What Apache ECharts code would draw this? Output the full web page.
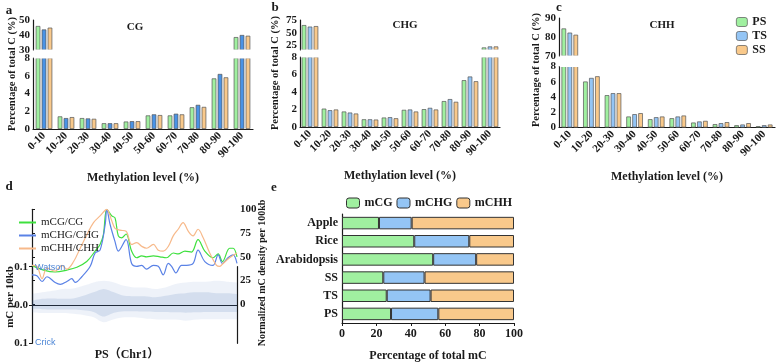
<!DOCTYPE html>
<html>
<head>
<meta charset="utf-8">
<script src="https://cdn.jsdelivr.net/npm/echarts@6/dist/echarts.min.js"></script>
<style>html,body{margin:0;padding:0;background:#fff}#main{width:778px;height:363px}</style>
</head>
<body>
<div id="main"></div>
<script>
// a-c: methylation level distribution (% of total C)
var levels = ['0-10','10-20','20-30','30-40','40-50','50-60','60-70','70-80','80-90','90-100'];
var cgPS  = [46.0, 1.42, 1.23, 0.65, 0.84, 1.53, 1.53, 2.45, 5.70, 38.6];
var cgTS  = [43.7, 1.23, 1.19, 0.65, 0.88, 1.65, 1.72, 2.72, 6.20, 40.0];
var cgSS  = [44.9, 1.34, 1.15, 0.65, 0.88, 1.57, 1.65, 2.49, 5.82, 39.5];
var chgPS = [65.0, 2.10, 1.77, 0.88, 1.08, 1.96, 2.04, 2.96, 5.35, 21.0];
var chgTS = [62.0, 1.92, 1.65, 0.88, 1.12, 2.00, 2.19, 3.19, 5.77, 23.0];
var chgSS = [63.0, 2.00, 1.54, 0.85, 1.00, 1.77, 2.00, 2.88, 5.23, 23.0];
var chhPS = [84.5, 6.03, 4.24, 1.44, 1.09, 1.22, 0.65, 0.44, 0.30, 0.17];
var chhTS = [82.3, 6.50, 4.50, 1.75, 1.35, 1.44, 0.79, 0.57, 0.39, 0.30];
var chhSS = [81.2, 6.72, 4.50, 1.88, 1.44, 1.57, 0.87, 0.70, 0.57, 0.39];

// d: normalized mC density along Chr1 ([position %, density])
var cgLine = [[0,41],[5.7,36],[11.3,34],[17,36],[21.9,39],[26.7,45],[30.8,56],[33.2,63],[34.8,73],[36.5,100],[38.9,93],[40.5,91],[42.1,72],[43.8,70],[45.9,74],[48.6,56],[51.1,49],[53.5,51],[55.9,50],[59.2,51],[62.4,50],[65.6,49],[68.9,54],[71.3,53],[74.6,56],[77.8,55],[81,68],[84.3,56],[88.3,49],[90.8,53],[92.9,45],[96.4,59],[98.1,59],[100,50]];
var chgLine = [[0,31],[2.4,30],[4.9,24],[7.3,29],[11.3,23],[13.8,21],[17,24],[19.4,27],[21.1,23],[24.3,29],[28.4,40],[30.8,54],[33.2,57],[35.7,84],[36.5,100],[38.1,84],[40.5,66],[42.1,56],[45.9,68],[48.6,43],[51.1,40],[53.5,41],[55.9,37],[59.2,41],[61.6,40],[64,31],[66.5,43],[68.1,40],[70.2,33],[72.9,41],[75.4,41],[78.6,43],[81,57],[84.3,45],[88.3,41],[90.8,52],[92.9,43],[95.6,49],[98.1,52],[100,43]];
var chhLine = [[0,41],[2.4,40],[4.9,27],[7.3,38],[11.3,35],[14.6,41],[17,37],[20.3,45],[23.5,59],[26.7,73],[30,86],[33.2,93],[35.7,99],[36.5,100],[38.9,88],[40.5,80],[42.9,78],[45.9,77],[48.6,63],[51.1,65],[53.5,61],[55.9,59],[59.2,63],[61.6,57],[64,56],[66.5,61],[68.9,72],[71.3,79],[73.7,86],[76.2,77],[78.6,72],[81,79],[83.5,70],[86.7,54],[90,41],[91.6,40],[93.2,43],[96.4,49],[100,54]];
// mC per 10kb cloud envelope (Watson +, Crick -)
var bandPos    = [0,5,10,15,20,25,30,35,40,45,50,55,60,65,70,75,80,85,90,95,100];
var sparseUp   = [0.029,0.033,0.037,0.042,0.043,0.050,0.059,0.063,0.059,0.050,0.046,0.046,0.042,0.046,0.055,0.059,0.061,0.061,0.063,0.061,0.059];
var denseUp    = [0.011,0.016,0.017,0.016,0.017,0.024,0.033,0.042,0.033,0.024,0.023,0.023,0.020,0.024,0.029,0.031,0.033,0.033,0.031,0.031,0.029];
var sparseDown = [-0.019,-0.021,-0.021,-0.021,-0.023,-0.026,-0.032,-0.045,-0.037,-0.032,-0.032,-0.035,-0.037,-0.038,-0.038,-0.041,-0.038,-0.037,-0.037,-0.037,-0.037];
var denseDown  = [-0.010,-0.011,-0.012,-0.012,-0.012,-0.014,-0.018,-0.030,-0.020,-0.016,-0.016,-0.017,-0.018,-0.018,-0.019,-0.020,-0.019,-0.018,-0.018,-0.018,-0.018];

// e: percentage of total mC
var species = ['PS','TS','SS','Arabidopsis','Rice','Apple'];
var mCG  = [28.5, 26, 24, 53, 42, 21.5];
var mCHG = [27.5, 25.5, 24, 25, 32, 19];
var mCHH = [44, 48.5, 52, 22, 26, 59.5];

var SERIF = '"Liberation Serif","Times New Roman",serif';
var GREEN = '#a0f0a0', ORANGE = '#f9c98b', LBLUE = '#94c5f5';
var ink = '#1a1a1a';

var myChart = echarts.init(document.getElementById('main'));

var panels = [
  {left: 33,  width: 220, upTop: 20, upH: 30, upMin: 30, upMax: 50, upTicks: [30,40,50], lowTop: 58,   lowH: 71, data: [cgPS, cgTS, cgSS],    blue: '#4a93e6'},
  {left: 300, width: 200, upTop: 20, upH: 30, upMin: 16, upMax: 75, upTicks: [25,50,75], lowTop: 57,   lowH: 70, data: [chgPS, chgTS, chgSS], blue: LBLUE},
  {left: 559, width: 216, upTop: 18, upH: 38, upMin: 70, upMax: 90, upTicks: [70,80,90], lowTop: 66.5, lowH: 61, data: [chhPS, chhTS, chhSS], blue: LBLUE}
];
var names = ['PS','TS','SS'];

var grid = [], xAxis = [], yAxis = [], series = [], breaks = [];
var axisLine = {show: true, lineStyle: {color: ink, width: 1.2}};
var lab = {fontFamily: SERIF, fontWeight: 'bold', fontSize: 11, color: ink};

panels.forEach(function (p, i) {
  var gu = grid.length;
  grid.push({left: p.left, top: p.upTop, width: p.width, height: p.upH});
  grid.push({left: p.left, top: p.lowTop, width: p.width, height: p.lowH});
  xAxis.push({type: 'category', gridIndex: gu, data: levels, show: false});
  xAxis.push({type: 'category', gridIndex: gu + 1, data: levels, axisLine: axisLine,
    axisTick: {alignWithLabel: true, length: 3, lineStyle: {color: ink}},
    axisLabel: Object.assign({rotate: 45, margin: 5, interval: 0}, lab),
    name: 'Methylation level (%)', nameLocation: 'middle', nameGap: 43,
    nameTextStyle: {fontFamily: SERIF, fontWeight: 'bold', fontSize: 12, color: ink}});
  yAxis.push({type: 'value', gridIndex: gu, min: p.upMin, max: p.upMax, axisLine: axisLine,
    splitLine: {show: false},
    axisTick: {length: 3, customValues: p.upTicks, lineStyle: {color: ink}},
    axisLabel: Object.assign({margin: 3, customValues: p.upTicks}, lab)});
  yAxis.push({type: 'value', gridIndex: gu + 1, min: 0, max: 8, interval: 2, axisLine: axisLine,
    splitLine: {show: false}, axisTick: {length: 3, lineStyle: {color: ink}},
    axisLabel: Object.assign({margin: 3}, lab)});
  var cols = [GREEN, p.blue, ORANGE];
  [gu, gu + 1].forEach(function (g) {
    p.data.forEach(function (arr, k) {
      series.push({type: 'bar', name: names[k], xAxisIndex: g, yAxisIndex: g, data: arr,
        clip: true, barWidth: 4.6, barGap: '30%', silent: true,
        itemStyle: {color: cols[k], borderColor: '#555', borderWidth: 0.7}});
    });
  });
  // white band hiding the clipped bar edges at the axis break
  var y0 = p.upTop + p.upH - 0.5;
  breaks.push({type: 'rect', silent: true, z: 100,
    shape: {x: p.left + 0.8, y: y0, width: p.width, height: p.lowTop + 0.5 - y0},
    style: {fill: '#fff'}});
});

// d grids: 6 = density lines (right axis), 7 = mC per 10kb cloud
grid.push({left: 32, top: 209.3, width: 205, height: 95});
grid.push({left: 32, top: 266.7, width: 205, height: 76.6});
xAxis.push({type: 'value', gridIndex: 6, min: 0, max: 100, show: false});
xAxis.push({type: 'value', gridIndex: 7, min: 0, max: 100,
  axisLine: {show: true, onZero: true, lineStyle: {color: ink, width: 1.2}},
  axisTick: {show: false}, axisLabel: {show: false}, splitLine: {show: false}});
yAxis.push({type: 'value', gridIndex: 6, position: 'right', min: 0, max: 100, interval: 25,
  axisLine: axisLine, splitLine: {show: false}, axisTick: {length: 3, lineStyle: {color: ink}},
  axisLabel: Object.assign({margin: 3}, lab)});
yAxis.push({type: 'value', gridIndex: 7, position: 'left', min: -0.1, max: 0.1, interval: 0.1,
  axisLine: axisLine, splitLine: {show: false}, axisTick: {length: 3, lineStyle: {color: ink}},
  axisLabel: Object.assign({margin: 4, formatter: function (v) { return Math.abs(v).toFixed(1); }}, lab)});
yAxis.push({type: 'value', gridIndex: 7, position: 'right', min: -0.1, max: 0.1,
  axisLine: axisLine, splitLine: {show: false}, axisTick: {show: false}, axisLabel: {show: false}});

function band(arr, op) {
  return {type: 'line', xAxisIndex: 7, yAxisIndex: 8, symbol: 'none', silent: true, smooth: 0.3,
    data: bandPos.map(function (x, i) { return [x, arr[i]]; }),
    lineStyle: {width: 0}, areaStyle: {color: 'rgba(60,105,180,' + op + ')'}};
}
series.push(band(sparseUp, 0.12), band(sparseDown, 0.12), band(denseUp, 0.2), band(denseDown, 0.2));

[['mCG/CG', cgLine, '#3ee03e'], ['mCHG/CHG', chgLine, '#5a82e6'], ['mCHH/CHH', chhLine, '#f7b98a']]
  .forEach(function (s) {
    series.push({type: 'line', name: s[0], xAxisIndex: 6, yAxisIndex: 6, data: s[1], smooth: 0.35,
      symbol: 'none', silent: true, lineStyle: {color: s[2], width: 1.2}, itemStyle: {color: s[2]}});
  });

// e grid
grid.push({left: 342, top: 214, width: 172, height: 113});
xAxis.push({type: 'value', gridIndex: 8, min: 0, max: 100, interval: 20, axisLine: axisLine,
  splitLine: {show: false}, axisTick: {show: true, length: 3, lineStyle: {color: ink}},
  axisLabel: Object.assign({}, lab, {fontSize: 12, margin: 5}),
  name: 'Percentage of total mC', nameLocation: 'middle', nameGap: 27,
  nameTextStyle: {fontFamily: SERIF, fontWeight: 'bold', fontSize: 12, color: ink}});
yAxis.push({type: 'category', gridIndex: 8, data: species, axisLine: axisLine,
  axisTick: {alignWithLabel: true, length: 3, lineStyle: {color: ink}},
  axisLabel: Object.assign({}, lab, {fontSize: 12, margin: 4})});
[['mCG', mCG, GREEN], ['mCHG', mCHG, LBLUE], ['mCHH', mCHH, ORANGE]].forEach(function (s) {
  series.push({type: 'bar', name: s[0], xAxisIndex: 8, yAxisIndex: 9, stack: 'mc', data: s[1],
    barWidth: 12.5, silent: true, itemStyle: {color: s[2], borderColor: '#333', borderWidth: 1}});
});

function txt(x, y, t, size, opt) {
  opt = opt || {};
  return {type: 'text', x: x, y: y, rotation: opt.rot || 0, silent: true, z: 110,
    style: {text: t, fill: opt.color || ink, textAlign: opt.align || 'center', textVerticalAlign: 'middle',
      font: (opt.weight || 'bold') + ' ' + size + 'px ' + (opt.family || SERIF)}};
}

var option = {
  animation: false,
  backgroundColor: '#fff',
  grid: grid, xAxis: xAxis, yAxis: yAxis, series: series,
  legend: [
    {orient: 'vertical', left: 731, top: 11, itemWidth: 11, itemHeight: 9, itemGap: 2,
      textStyle: {fontFamily: SERIF, fontWeight: 'bold', fontSize: 12, color: ink},
      data: [{name: 'PS', itemStyle: {color: GREEN, borderColor: '#555', borderWidth: 0.7}},
             {name: 'TS', itemStyle: {color: LBLUE, borderColor: '#555', borderWidth: 0.7}},
             {name: 'SS', itemStyle: {color: ORANGE, borderColor: '#555', borderWidth: 0.7}}]},
    {orient: 'vertical', left: 14, top: 212, itemWidth: 17, itemHeight: 2, itemGap: 2, icon: 'rect',
      textStyle: {fontFamily: SERIF, fontSize: 11, color: ink},
      data: ['mCG/CG', 'mCHG/CHG', 'mCHH/CHH']},
    {orient: 'horizontal', left: 341, top: 192, itemWidth: 13, itemHeight: 10, itemGap: 4,
      textStyle: {fontFamily: SERIF, fontWeight: 'bold', fontSize: 12, color: ink},
      data: [{name: 'mCG', itemStyle: {color: GREEN, borderColor: '#333', borderWidth: 1}},
             {name: 'mCHG', itemStyle: {color: LBLUE, borderColor: '#333', borderWidth: 1}},
             {name: 'mCHH', itemStyle: {color: ORANGE, borderColor: '#333', borderWidth: 1}}]}
  ],
  graphic: breaks.concat([
    txt(9, 11, 'a', 13), txt(275, 8, 'b', 13), txt(559, 8, 'c', 13),
    txt(9, 187, 'd', 13), txt(274, 188, 'e', 13),
    txt(135, 27, 'CG', 11), txt(405, 25, 'CHG', 11), txt(662, 25, 'CHH', 11),
    txt(12, 74, 'Percentage of total C (%)', 10.5, {rot: Math.PI / 2}),
    txt(275, 73, 'Percentage of total C (%)', 10.5, {rot: Math.PI / 2}),
    txt(536, 70, 'Percentage of total C (%)', 10.5, {rot: Math.PI / 2}),
    txt(10, 297, 'mC per 10kb', 11, {rot: Math.PI / 2}),
    txt(262, 273, 'Normalized mC density per 100kb', 10, {rot: Math.PI / 2}),
    txt(127, 355, 'PS（Chr1）', 12, {family: SERIF + ',"Noto Sans CJK SC"'}),
    txt(35, 268, 'Watson', 9, {align: 'left', weight: 'normal', family: 'Liberation Sans', color: '#4d86d6'}),
    txt(35, 343, 'Crick', 9, {align: 'left', weight: 'normal', family: 'Liberation Sans', color: '#4d86d6'})
  ])
};

myChart.setOption(option);
</script>
</body>
</html>
